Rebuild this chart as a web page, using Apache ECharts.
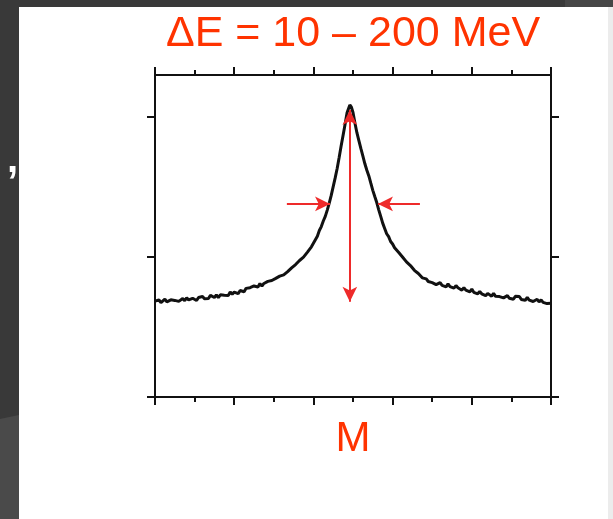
<!DOCTYPE html>
<html>
<head>
<meta charset="utf-8">
<script src="https://cdn.jsdelivr.net/npm/echarts@6/dist/echarts.min.js"></script>
<style>
  html, body { margin: 0; padding: 0; background: #393939; }
  #chart { width: 613px; height: 519px; }
</style>
</head>
<body>
<div id="chart"></div>
<script>
// mass axis (arbitrary units) and peak counts
const massX = [
  0.00, 0.05, 0.10, 0.15, 0.20, 0.25, 0.30, 0.35, 0.40, 0.45,
  0.50, 0.55, 0.60, 0.65, 0.70, 0.75, 0.80, 0.85, 0.90, 0.95,
  1.00, 1.05, 1.10, 1.15, 1.20, 1.25, 1.30, 1.35, 1.40, 1.45,
  1.50, 1.55, 1.60, 1.65, 1.70, 1.75, 1.80, 1.85, 1.90, 1.95,
  2.00, 2.05, 2.10, 2.15, 2.20, 2.25, 2.30, 2.35, 2.40, 2.45,
  2.50, 2.55, 2.60, 2.65, 2.70, 2.75, 2.80, 2.85, 2.90, 2.95,
  3.00, 3.05, 3.10, 3.15, 3.20, 3.25, 3.30, 3.35, 3.40, 3.45,
  3.50, 3.55, 3.60, 3.65, 3.70, 3.75, 3.80, 3.85, 3.90, 3.95,
  4.00, 4.05, 4.10, 4.15, 4.20, 4.25, 4.30,
  4.35, 4.40, 4.45, 4.50, 4.55, 4.60, 4.65, 4.70, 4.75, 4.80,
  4.85, 4.92, 4.96, 5.00, 5.05, 5.10, 5.15, 5.20, 5.25, 5.30,
  5.35, 5.40, 5.45, 5.50, 5.55, 5.60, 5.65,
  5.70, 5.75, 5.80, 5.85, 5.90, 5.95, 6.00, 6.05, 6.10, 6.15,
  6.20, 6.25, 6.30, 6.35, 6.40, 6.45, 6.50, 6.55, 6.60, 6.65,
  6.70, 6.75, 6.80, 6.85, 6.90, 6.95, 7.00, 7.05, 7.10, 7.15,
  7.20, 7.25, 7.30, 7.35, 7.40, 7.45, 7.50, 7.55, 7.60, 7.65,
  7.70, 7.75, 7.80, 7.85, 7.90, 7.95, 8.00, 8.05, 8.10, 8.15,
  8.20, 8.25, 8.30, 8.35, 8.40, 8.45, 8.50, 8.55, 8.60, 8.65,
  8.70, 8.75, 8.80, 8.85, 8.90, 8.95, 9.00, 9.05, 9.10, 9.15,
  9.20, 9.25, 9.30, 9.35, 9.40, 9.45, 9.50, 9.55, 9.60, 9.65,
  9.70, 9.75, 9.80, 9.85, 9.90, 9.95, 10.00
];
const counts = [
  0.685, 0.676, 0.693, 0.674, 0.687, 0.699, 0.680, 0.677, 0.694, 0.700,
  0.690, 0.703, 0.683, 0.696, 0.703, 0.688, 0.709, 0.693, 0.689, 0.705,
  0.703, 0.689, 0.711, 0.703, 0.718, 0.702, 0.714, 0.703, 0.726, 0.715,
  0.711, 0.729, 0.710, 0.730, 0.737, 0.726, 0.734, 0.725, 0.750, 0.734,
  0.749, 0.743, 0.738, 0.761, 0.757, 0.752, 0.776, 0.765, 0.781, 0.768,
  0.793, 0.792, 0.786, 0.810, 0.792, 0.811, 0.809, 0.826, 0.813, 0.832,
  0.822, 0.847, 0.843, 0.863, 0.856, 0.872, 0.870, 0.895, 0.897, 0.922,
  0.922, 0.946, 0.950, 0.975, 0.976, 0.999, 1.007, 1.035, 1.045, 1.073,
  1.085, 1.123, 1.148, 1.189, 1.217, 1.257, 1.290,
  1.335, 1.385, 1.440, 1.503, 1.565, 1.632, 1.710, 1.793, 1.870, 1.948,
  2.030, 2.086, 2.070, 2.032, 1.955, 1.886, 1.830, 1.774, 1.720, 1.666,
  1.620, 1.579, 1.527, 1.476, 1.432, 1.389, 1.337,
  1.290, 1.242, 1.204, 1.166, 1.145, 1.111, 1.093, 1.066, 1.060, 1.034,
  1.027, 1.000, 0.994, 0.965, 0.963, 0.939, 0.934, 0.905, 0.908, 0.882,
  0.880, 0.851, 0.856, 0.844, 0.825, 0.839, 0.817, 0.826, 0.803, 0.815,
  0.817, 0.797, 0.804, 0.787, 0.808, 0.789, 0.796, 0.778, 0.796, 0.780,
  0.786, 0.763, 0.781, 0.763, 0.767, 0.751, 0.771, 0.748, 0.754, 0.737,
  0.754, 0.737, 0.746, 0.724, 0.740, 0.733, 0.720, 0.740, 0.719, 0.728,
  0.717, 0.730, 0.708, 0.720, 0.724, 0.705, 0.719, 0.698, 0.719, 0.706,
  0.718, 0.697, 0.707, 0.691, 0.711, 0.692, 0.702, 0.682, 0.694, 0.698,
  0.679, 0.694, 0.676, 0.684, 0.667, 0.679, 0.669
];
// red annotation arrows: peak height and half width
const heightArrow = [[4.92, 0.68], [4.92, 2.05]];
const widthArrowLeft = [[3.33, 1.379], [4.42, 1.379]];
const widthArrowRight = [[6.69, 1.379], [5.63, 1.379]];
const yTicks = [0, 1, 2];

const titleText = 'ΔE = 10 – 200 MeV';
const xLabel = 'M';

const chart = echarts.init(document.getElementById('chart'));

const points = massX.map((x, i) => [x, counts[i]]);

function xAxisCfg(position) {
  return {
    type: 'value', min: 0, max: 10, interval: 2, position: position,
    axisLine: { show: true, onZero: false, lineStyle: { color: '#111', width: 2 } },
    axisTick: { show: true, length: 8, lineStyle: { color: '#111', width: 2 } },
    minorTick: { show: true, splitNumber: 2, length: 5, lineStyle: { color: '#111', width: 2 } },
    axisLabel: { show: false },
    splitLine: { show: false }
  };
}

function yAxisCfg(position) {
  return {
    type: 'value', min: 0, max: 2.3, interval: 1, position: position,
    axisLine: { show: true, onZero: false, lineStyle: { color: '#111', width: 2 } },
    axisTick: { show: true, length: 8, customValues: yTicks, lineStyle: { color: '#111', width: 2 } },
    axisLabel: { show: false },
    splitLine: { show: false }
  };
}

chart.setOption({
  backgroundColor: '#393939',
  animation: false,
  grid: { left: 155, right: 62, top: 75, bottom: 122 },
  xAxis: [xAxisCfg('bottom'), xAxisCfg('top')],
  yAxis: [yAxisCfg('left'), yAxisCfg('right')],
  graphic: [
    { type: 'rect', z: -10, silent: true, shape: { x: 19, y: 7, width: 589, height: 512 }, style: { fill: '#ffffff' } },
    { type: 'rect', z: -10, silent: true, shape: { x: 608, y: 7, width: 5, height: 512 }, style: { fill: '#ececec' } },
    { type: 'rect', z: -10, silent: true, shape: { x: 565, y: 0, width: 48, height: 7 }, style: { fill: '#464646' } },
    { type: 'polygon', z: -10, silent: true, shape: { points: [[0, 419], [19, 415], [19, 519], [0, 519]] }, style: { fill: '#4a4a4a' } },
    {
      type: 'text', x: 7, y: 141, silent: true,
      style: { text: ',', fill: '#ffffff', font: 'bold 40px "Liberation Sans", Arial, sans-serif' }
    },
    {
      type: 'text', x: 353, y: 34, silent: true,
      style: {
        text: titleText, fill: '#ff3300', align: 'center', verticalAlign: 'middle',
        font: '43px "Liberation Sans", Arial, sans-serif'
      }
    },
    {
      type: 'text', x: 353, y: 439, silent: true,
      style: {
        text: xLabel, fill: '#ff3300', align: 'center', verticalAlign: 'middle',
        font: '42px "Liberation Sans", Arial, sans-serif'
      }
    }
  ],
  series: [
    {
      type: 'line',
      data: points,
      showSymbol: false,
      lineStyle: { color: '#111', width: 3 },
      markLine: {
        silent: true,
        label: { show: false },
        lineStyle: { color: '#ee2a2a', width: 2, type: 'solid' },
        symbolSize: [11, 15],
        data: [
          [{ coord: heightArrow[0], symbol: 'arrow' }, { coord: heightArrow[1], symbol: 'arrow' }],
          [{ coord: widthArrowLeft[0], symbol: 'none' }, { coord: widthArrowLeft[1], symbol: 'arrow' }],
          [{ coord: widthArrowRight[0], symbol: 'none' }, { coord: widthArrowRight[1], symbol: 'arrow' }]
        ]
      }
    }
  ]
});
</script>
</body>
</html>
